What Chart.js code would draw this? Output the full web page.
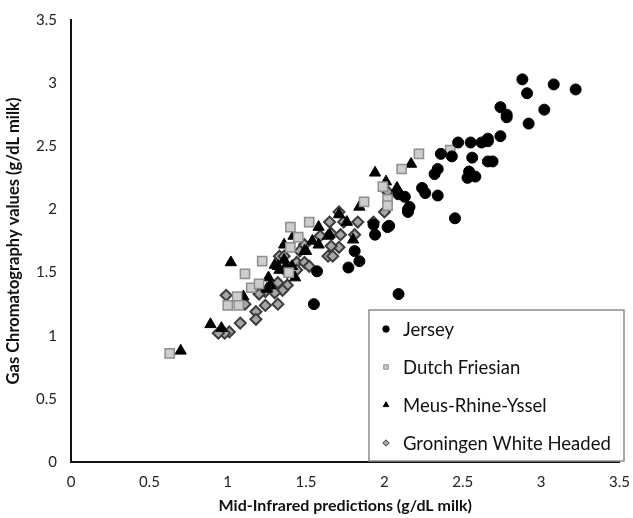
<!DOCTYPE html>
<html>
<head>
<meta charset="utf-8">
<script src="https://cdn.jsdelivr.net/npm/chart.js@4/dist/chart.umd.min.js"></script>
<style>
  html, body { margin: 0; padding: 0; background: #fff; }
  #wrap { width: 633px; height: 518px; }
</style>
</head>
<body>
<div id="wrap"><canvas id="milkChart" width="633" height="518"></canvas></div>
<script>
// values, [x, y] in g/dL milk
const seriesNames = ["Jersey", "Dutch Friesian", "Meus-Rhine-Yssel", "Groningen White Headed"]
const xTicks = [0, 0.5, 1, 1.5, 2, 2.5, 3, 3.5]
const yTicks = [0, 0.5, 1, 1.5, 2, 2.5, 3, 3.5]

const jersey = [
  [2.88, 3.03], [3.08, 2.99], [3.22, 2.95], [2.91, 2.92], [2.74, 2.81], [2.78, 2.75],
  [2.78, 2.73], [3.02, 2.79], [2.92, 2.68], [2.74, 2.58], [2.66, 2.56], [2.66, 2.54],
  [2.55, 2.53], [2.47, 2.53], [2.62, 2.53], [2.56, 2.41], [2.66, 2.38], [2.69, 2.38],
  [2.54, 2.30], [2.53, 2.25], [2.58, 2.26], [2.36, 2.44], [2.43, 2.42], [2.34, 2.32],
  [2.32, 2.28], [2.24, 2.17], [2.26, 2.13], [2.34, 2.11], [2.09, 2.12], [2.13, 2.10],
  [2.16, 2.02], [2.15, 2.00], [2.15, 1.98], [2.45, 1.93], [2.03, 1.87], [1.93, 1.88],
  [2.02, 1.86], [1.94, 1.80], [1.81, 1.67], [1.84, 1.59], [1.77, 1.54], [2.09, 1.33],
  [1.57, 1.51], [1.55, 1.25]
]
const dutchFriesian = [
  [0.63, 0.86], [1.52, 1.90], [1.40, 1.86], [1.11, 1.49], [1.15, 1.38], [1.20, 1.41],
  [1.06, 1.31], [1.00, 1.24], [1.07, 1.24], [1.39, 1.50], [1.40, 1.70], [1.87, 2.06],
  [2.11, 2.32], [1.99, 2.18], [2.02, 2.08], [2.02, 2.03], [2.22, 2.44], [2.42, 2.47],
  [1.45, 1.78], [1.22, 1.59]
]
const meusRhineYssel = [
  [0.70, 0.88], [0.89, 1.09], [0.96, 1.06], [1.02, 1.58], [1.10, 1.31], [1.26, 1.46],
  [1.27, 1.40], [1.30, 1.56], [1.36, 1.72], [1.42, 1.79], [1.43, 1.46], [1.58, 1.86],
  [1.64, 1.79], [1.54, 1.75], [1.49, 1.67], [1.36, 1.60], [1.32, 1.55], [1.37, 1.55],
  [1.41, 1.55], [1.25, 1.37], [1.33, 1.52], [1.94, 2.29], [1.84, 2.02], [1.71, 1.96],
  [1.76, 1.90], [1.65, 1.80], [1.80, 1.76], [1.58, 1.72], [1.50, 1.67], [2.17, 2.36],
  [2.01, 2.22], [2.08, 2.17]
]
const groningen = [
  [1.65, 1.90], [1.66, 1.81], [1.64, 1.63], [1.59, 1.79], [1.49, 1.72], [1.46, 1.67],
  [1.33, 1.63], [1.36, 1.63], [1.44, 1.58], [1.49, 1.58], [1.52, 1.55], [1.44, 1.52],
  [1.38, 1.40], [1.32, 1.42], [1.35, 1.36], [1.30, 1.34], [1.24, 1.35], [1.20, 1.33],
  [1.11, 1.25], [1.24, 1.24], [1.32, 1.25], [1.18, 1.19], [1.18, 1.13], [1.08, 1.10],
  [0.99, 1.32], [1.01, 1.03], [0.98, 1.02], [0.94, 1.02], [1.38, 1.50], [1.71, 1.98],
  [1.74, 1.90], [1.83, 1.90], [1.81, 1.80], [1.72, 1.80], [1.71, 1.70], [1.66, 1.71],
  [1.67, 1.63], [1.93, 1.90], [2.00, 1.98], [2.02, 2.14]
]

const toPoints = (arr) => arr.map(([x, y]) => ({ x: x, y: y }))
const plainTick = (value) => String(value)

const FONT = "Lato, 'Open Sans', sans-serif"

// legend box drawn inside the plot, lower right
const boxLegend = {
  id: "boxLegend",
  afterDraw(chart) {
    const ctx = chart.ctx
    const left = 369, top = 310, right = 624, bottom = 461
    ctx.save()
    ctx.fillStyle = "#fff"
    ctx.fillRect(left, top, right - left, bottom - top)
    ctx.strokeStyle = "#8c8c8c"
    ctx.lineWidth = 1.5
    ctx.strokeRect(left, top, right - left, bottom - top)
    chart.data.datasets.forEach((ds, i) => {
      const y = 329 + i * 38
      ctx.fillStyle = ds.backgroundColor
      ctx.strokeStyle = ds.borderColor
      ctx.lineWidth = 1
      Chart.helpers.drawPoint(ctx, { pointStyle: ds.pointStyle, radius: 3.2, borderWidth: 1, rotation: 0 }, 386, y)
      ctx.fillStyle = "#111"
      ctx.font = "18.5px " + FONT
      ctx.textBaseline = "middle"
      ctx.textAlign = "left"
      ctx.fillText(ds.label, 403, y + 1)
    })
    ctx.restore()
  },
}

function createMilkChart() {
  const data = {
    datasets: [
      {
        label: seriesNames[0],
        data: toPoints(jersey),
        pointStyle: "circle",
        pointRadius: 5.5,
        backgroundColor: "#000",
        borderColor: "#000",
        borderWidth: 1,
      },
      {
        label: seriesNames[1],
        data: toPoints(dutchFriesian),
        pointStyle: "rect",
        pointRadius: 6.5,
        backgroundColor: "#cdcdcd",
        borderColor: "#8e8e8e",
        borderWidth: 1.5,
      },
      {
        label: seriesNames[2],
        data: toPoints(meusRhineYssel),
        pointStyle: "triangle",
        pointRadius: 6.5,
        backgroundColor: "#000",
        borderColor: "#000",
        borderWidth: 1,
      },
      {
        label: seriesNames[3],
        data: toPoints(groningen),
        pointStyle: "rectRot",
        pointRadius: 5.5,
        backgroundColor: "#a6a6a6",
        borderColor: "#3c3c3c",
        borderWidth: 2,
      },
    ],
  }

  const config = {
    type: "scatter",
    data: data,
    options: {
      responsive: false,
      animation: false,
      layout: { padding: { top: 20, right: 6, left: 0, bottom: 0 } },
      plugins: {
        legend: { display: false },
        tooltip: { enabled: false },
      },
      scales: {
        x: {
          type: "linear",
          min: 0,
          max: 3.5,
          afterBuildTicks: (scale) => { scale.ticks = xTicks.map((v) => ({ value: v })) },
          afterFit: (scale) => { scale.height = 56 },
          grid: { display: false },
          border: { color: "#111", width: 2 },
          ticks: { color: "#222", font: { family: FONT, size: 15 }, padding: 3, maxRotation: 0, callback: plainTick },
          title: {
            display: true,
            text: "Mid-Infrared predictions (g/dL milk)",
            color: "#111",
            font: { family: FONT, size: 16, weight: "bold" },
            padding: { top: 6, bottom: 3 },
          },
        },
        y: {
          type: "linear",
          min: 0,
          max: 3.5,
          afterBuildTicks: (scale) => { scale.ticks = yTicks.map((v) => ({ value: v })) },
          afterFit: (scale) => { scale.width = 71 },
          grid: { display: false },
          border: { color: "#111", width: 2 },
          ticks: { color: "#222", font: { family: FONT, size: 15 }, padding: 6, callback: plainTick },
          title: {
            display: true,
            text: "Gas Chromatography values (g/dL milk)",
            color: "#111",
            font: { family: FONT, size: 16.5, weight: "bold" },
            padding: { top: 4, bottom: 4 },
          },
        },
      },
    },
    plugins: [boxLegend],
  }

  const ctx = document.getElementById("milkChart")
  new Chart(ctx, config)
}

createMilkChart()
</script>
</body>
</html>
